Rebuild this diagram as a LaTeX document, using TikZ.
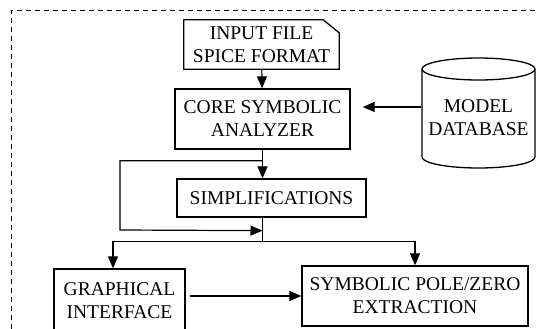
\documentclass[tikz,border=0pt]{standalone}
\usepackage{fontspec}
\setmainfont{Liberation Serif}
\usetikzlibrary{arrows.meta, calc}

\begin{document}
\begin{tikzpicture}[x=1pt, y=-1pt, font=\fontsize{19.5}{23}\selectfont,
  box/.style={draw, line width=1.3pt, align=center, inner sep=0pt},
  arr/.style={-{Triangle[length=12pt,width=10pt]}, line width=1.2pt}]
  \useasboundingbox (0,0) rectangle (536,329);

  % frame, only top and left side on the page
  \draw[line width=1pt, dash pattern=on 5pt off 4pt] (11,329) -- (11,11) -- (536,11);

  % input file with cut corner
  \node[align=center, minimum width=155pt, minimum height=49pt, inner sep=0pt] (input) at (261.5,44.5) {INPUT FILE\\SPICE FORMAT};
  \draw[line width=1.3pt] (input.south west) -- (input.north west) -- ([xshift=-16pt]input.north east)
    -- ([yshift=-13pt]input.north east) -- (input.south east) -- cycle;

  % main boxes
  \node[box, minimum width=175pt, minimum height=60pt] (core) at (262.5,119) {CORE SYMBOLIC\\ANALYZER};
  \node[box, minimum width=189pt, minimum height=38pt] (simp) at (271.5,198) {SIMPLIFICATIONS};
  \node[box, minimum width=131pt, minimum height=64pt] (gui) at (119.5,301) {GRAPHICAL\\INTERFACE};
  \node[box, minimum width=226pt, minimum height=60pt] (pole) at (415,296) {SYMBOLIC POLE/ZERO\\EXTRACTION};

  % model database cylinder
  \node[align=center, minimum width=114pt, inner sep=0pt] (db) at (478.5,118) {MODEL\\DATABASE};
  \draw[line width=1.3pt] (478.5,69) ellipse [x radius=56.5pt, y radius=11pt];
  \draw[line width=1.3pt] (422,69) -- (422,157) arc[start angle=180, end angle=360, x radius=56.5pt, y radius=11pt] -- (535,69);

  % connectors
  \coordinate (dbin) at ([yshift=11pt]db.west);
  \coordinate (tap) at ($(core.south)+(0,11)$);
  \coordinate (join) at ($(core.south)+(0,81)$);
  \coordinate (fork) at ($(core.south)+(0,92)$);
  \coordinate (bypass) at (120,230);

  \draw[arr] (input) -- (core);
  \draw[arr, shorten >=12pt] (dbin) -- (dbin -| core.east);
  \draw[arr] (core.south) -- (core.south |- simp.north);
  \draw[arr] (tap) -| (bypass) -- (join);
  \draw[line width=1.2pt] (core.south |- simp.south) -- (fork);
  \draw[arr] (fork) -| ([xshift=-6.5pt]gui.north);
  \draw[arr] (fork) -| (pole.north);
  \draw[arr, shorten <=4pt] (gui.east |- pole.west) -- (pole.west);

\end{tikzpicture}
\end{document}
